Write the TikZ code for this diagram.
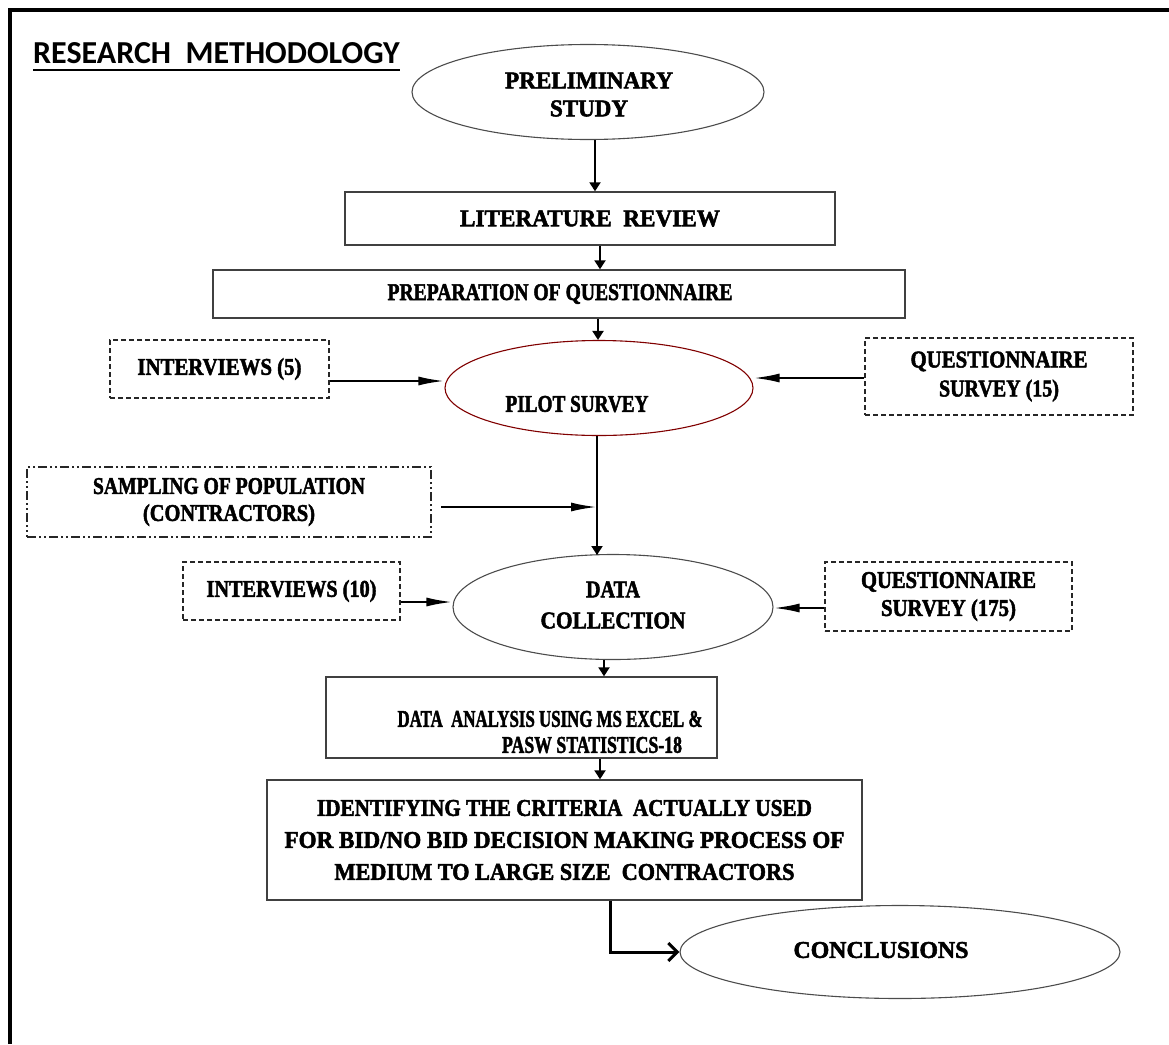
\documentclass[tikz,border=0pt]{standalone}
\usepackage{fontspec}
\setmainfont{Liberation Serif}[BoldFeatures={FakeBold=2.2}]
\newfontfamily\titlefont{Carlito}
\usetikzlibrary{shapes.geometric,arrows.meta}
\newcommand{\tw}[2]{\resizebox{#1pt}{\height}{#2}}
\tikzset{
  ell/.style={ellipse,draw=black!70,line width=1.1,inner sep=0pt},
  redell/.style={ellipse,draw=red!50!black,line width=1.1,inner sep=0pt},
  box/.style={rectangle,draw=black!75,line width=1.4,inner sep=0pt,align=center},
  dbox/.style={rectangle,draw=black!85,line width=1.2,dash pattern=on 5pt off 3pt,inner sep=0pt,align=center},
  ddbox/.style={rectangle,draw=black!85,line width=1.2,dash pattern=on 9pt off 3pt on 2pt off 3pt on 2pt off 3pt,inner sep=0pt,align=center},
  txt/.style={font=\bfseries\fontsize{24}{28}\selectfont,align=center,inner sep=0pt},
  arr/.style={line width=2,-{Triangle[length=9,width=11]}},
  sarr/.style={line width=2.2,-{Latex[length=26,width=9]}},
  carr/.style={line width=3,-{Straight Barb[length=9,width=18,line width=3]}},
}
\begin{document}
\begin{tikzpicture}[x=1pt,y=-1pt]
\useasboundingbox (0,0) rectangle (1169,1044);
% frame
\draw[line width=4] (10,1044) -- (10,10) -- (1169,10);
% title
\node[anchor=base west,inner sep=0pt,font=\titlefont\bfseries\fontsize{32}{32}\selectfont] (title) at (33,63) {RESEARCH\ \ METHODOLOGY};
\draw[line width=1.8] (33,70) -- (title.east |- 0,70);

\node[ell,minimum width=352,minimum height=95] (pre) at (588,92) {};
\node[txt] (pretxt) at (589,94.5) {\tw{168}{PRELIMINARY}\\\tw{78}{STUDY}};
\node[box,minimum width=490,minimum height=53,txt] (lit) at (590,218.5) {\tw{260}{LITERATURE\ \ REVIEW}};
\node[box,minimum width=692,minimum height=48,txt] (prep) at (559,294) {\hspace*{2pt}\tw{345}{PREPARATION OF QUESTIONNAIRE}};
\node[redell,minimum width=308,minimum height=95] (pilot) at (599,388) {};
\node[txt] (pilottxt) at (577,404) {\tw{143}{PILOT SURVEY}};
\node[dbox,minimum width=219,minimum height=58,txt] (int5) at (219.5,369) {\tw{164}{INTERVIEWS (5)}};
\node[dbox,minimum width=268,minimum height=77,txt,font=\bfseries\fontsize{24}{29}\selectfont] (q15) at (999,376.5) {\tw{177}{QUESTIONNAIRE}\\\tw{120}{SURVEY (15)}};
\node[ddbox,minimum width=404,minimum height=70,txt,font=\bfseries\fontsize{24}{27}\selectfont] (samp) at (229,502) {\tw{272}{SAMPLING OF POPULATION}\\\tw{172}{(CONTRACTORS)}};
\node[ell,minimum width=320,minimum height=105] (data) at (613,607) {};
\node[txt,font=\bfseries\fontsize{24}{31}\selectfont] (datatxt) at (613,605) {\tw{54}{DATA}\\\tw{145}{COLLECTION}};
\node[dbox,minimum width=217,minimum height=58,txt] (int10) at (291.5,591) {\tw{170}{INTERVIEWS (10)}};
\node[dbox,minimum width=247,minimum height=69,txt] (q175) at (948.5,596.5) {\tw{175}{QUESTIONNAIRE}\\\tw{135}{SURVEY (175)}};
\node[box,minimum width=391,minimum height=81] (ana) at (521.5,717.5) {};
\node[txt,font=\bfseries\fontsize{24}{26}\selectfont] (anatxt) at (521.5,732) {\hspace*{57pt}\tw{305}{DATA\ \ ANALYSIS USING MS EXCEL \&}\\\hspace*{141pt}\tw{180}{PASW STATISTICS-18}};
\node[box,minimum width=595,minimum height=120,txt,font=\bfseries\fontsize{24}{32}\selectfont] (ident) at (564.5,840) {\tw{495}{IDENTIFYING THE CRITERIA\ \ ACTUALLY USED}\\\tw{560}{FOR BID/NO BID DECISION MAKING PROCESS OF}\\\tw{460}{MEDIUM TO LARGE SIZE\ \ CONTRACTORS}};
\node[ell,minimum width=440,minimum height=93] (conc) at (900,952) {};
\node[txt] (conctxt) at (881,950) {\tw{175}{CONCLUSIONS}};

% main arrows
\draw[arr] (595,140) -- (595,0 |- lit.north);
\draw[arr] (600,0 |- lit.south) -- (600,0 |- prep.north);
\draw[arr] (598,0 |- prep.south) -- (598,0 |- pilot.north);
\coordinate (j) at (597,507);
\draw[arr] (597,436) -- (j) -- (597,555);
\draw[arr] (604,0 |- data.south) -- (604,0 |- ana.north);
\draw[arr] (600,0 |- ana.south) -- (600,0 |- ident.north);
\draw[carr] (610,0 |- ident.south) |- (conc.west);

% side arrows
\draw[sarr] (int5.east |- 0,381) -- (pilot.west |- 0,381);
\draw[sarr] (q15.west |- 0,378) -- (pilot.east |- 0,378);
\draw[sarr] (441,507) -- (j);
\draw[sarr] (int10.east |- 0,602) -- (data.west |- 0,602);
\draw[sarr] (q175.west |- 0,608) -- (data.east |- 0,608);
\end{tikzpicture}
\end{document}
